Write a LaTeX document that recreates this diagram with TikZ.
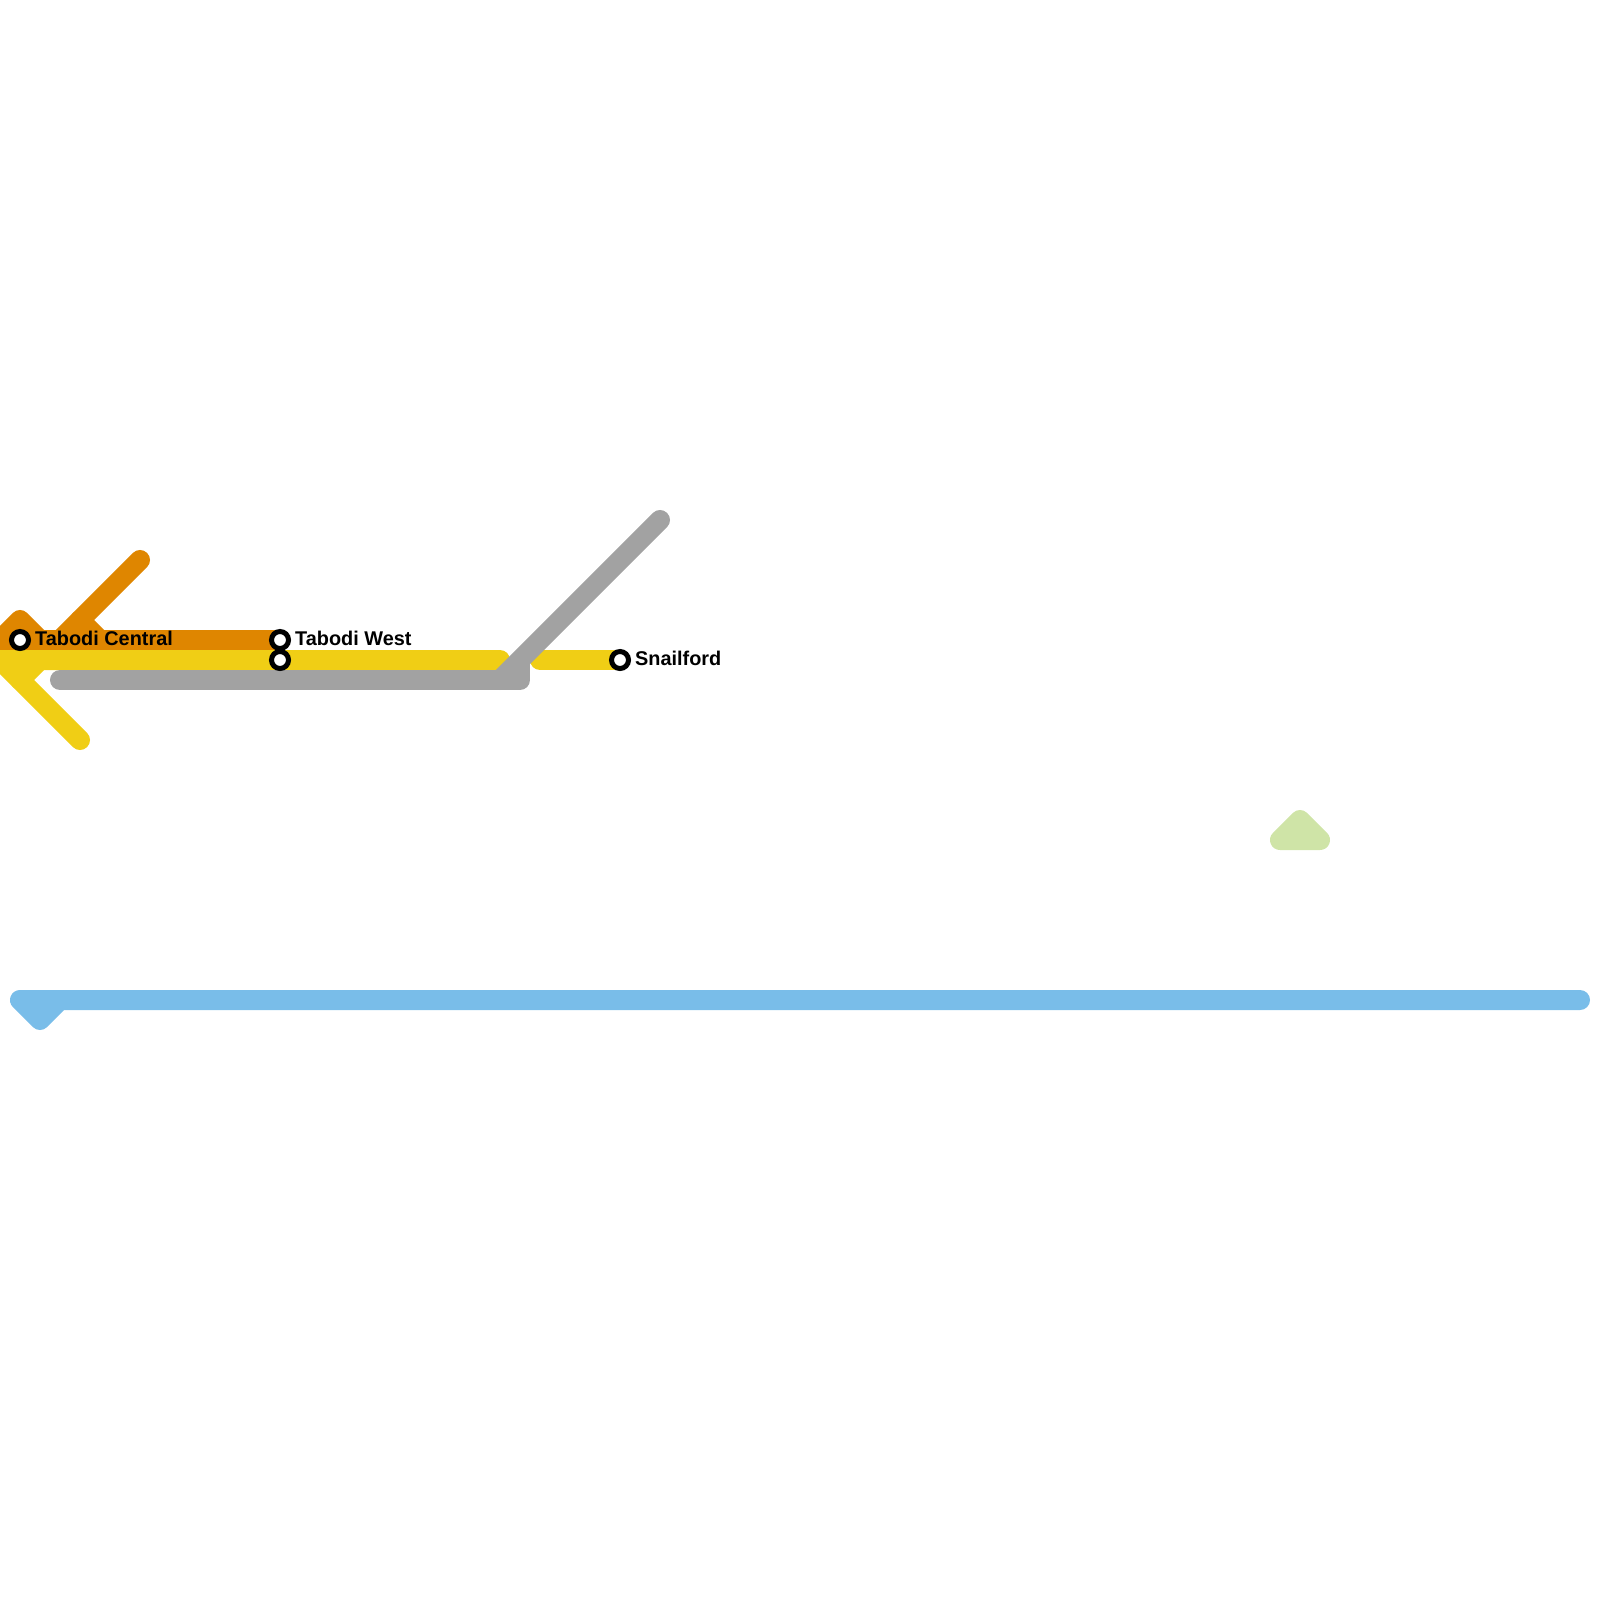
\documentclass[tikz,border=0pt]{standalone}
\usepackage{fontspec}
\setmainfont{Liberation Sans}
\usetikzlibrary{positioning}
\definecolor{lineorange}{HTML}{DF8600}
\definecolor{lineyellow}{HTML}{F0CE15}
\definecolor{linegray}{HTML}{A2A2A2}
\definecolor{lineblue}{HTML}{79BDE9}
\definecolor{linegreen}{HTML}{CFE4A7}
\begin{document}
\begin{tikzpicture}[x=0.01cm, y=-0.01cm,
    track/.style={line width=0.2cm, line cap=round, line join=round},
    station/.style={circle, draw=black, fill=white, line width=0.05cm, minimum size=0.17cm, inner sep=0pt},
    stname/.style={inner sep=0pt, font=\fontsize{5.65pt}{6pt}\selectfont\bfseries, yshift=0.02cm}]
  \useasboundingbox (0,0) rectangle (1600,1600);

  % station points
  \coordinate (tc) at (20,640);
  \coordinate (twa) at (280,640);
  \coordinate (twb) at (280,660);
  \coordinate (sn) at (620,660);

  % orange line
  \coordinate (oa) at (140,560);
  \coordinate (ob) at (80,620);
  \coordinate (oc) at (100,640);
  \coordinate (og) at (60,640);
  \coordinate (od) at (0,640);
  \coordinate (oe) at (20,620);
  \coordinate (of) at (40,640);
  \draw[track, lineorange] (oa) -- (og);
  \draw[track, lineorange] (ob) -- (oc);
  \draw[track, lineorange] (od) -- (oe) -- (of);
  \draw[track, lineorange] (od) -- (twa);

  % yellow line
  \coordinate (ya) at (80,740);
  \coordinate (yb) at (0,660);
  \coordinate (yc) at (20,680);
  \coordinate (yd) at (40,660);
  \coordinate (ye) at (500,660);
  \coordinate (yf) at (540,660);
  \draw[track, lineyellow] (ya) -- (yb) -- (ye);
  \draw[track, lineyellow] (yc) -- (yd);
  \draw[track, lineyellow] (yf) -- (sn);

  % gray line
  \coordinate (ga) at (60,680);
  \coordinate (gb) at (520,680);
  \coordinate (gc) at (520,665);
  \coordinate (gx) at (500,680);
  \coordinate (gd) at (660,520);
  \draw[track, linegray] (ga) -- (gb) -- (gc);
  \draw[track, linegray] (gx) -- (gd);

  % blue line
  \coordinate (ba) at (1580,1000);
  \coordinate (bb) at (20,1000);
  \coordinate (bc) at (40,1020);
  \coordinate (bd) at (60,1000);
  \draw[track, lineblue] (ba) -- (bb) -- (bc) -- (bd);

  % green line
  \coordinate (gra) at (1280,840);
  \coordinate (grb) at (1300,820);
  \coordinate (grc) at (1320,840);
  \draw[track, linegreen] (gra) -- (grb) -- (grc) -- cycle;

  % stations
  \node[station] (tabcentral) at (tc) {};
  \node[station] (tabwest) at (twa) {};
  \node[station] (tabwest2) at (twb) {};
  \node[station] (snailford) at (sn) {};

  \node[stname, right=0.035cm of tabcentral] (tclabel) {Tabodi Central};
  \node[stname, right=0.035cm of tabwest] (twlabel) {Tabodi West};
  \node[stname, right=0.035cm of snailford] (snlabel) {Snailford};
\end{tikzpicture}
\end{document}
